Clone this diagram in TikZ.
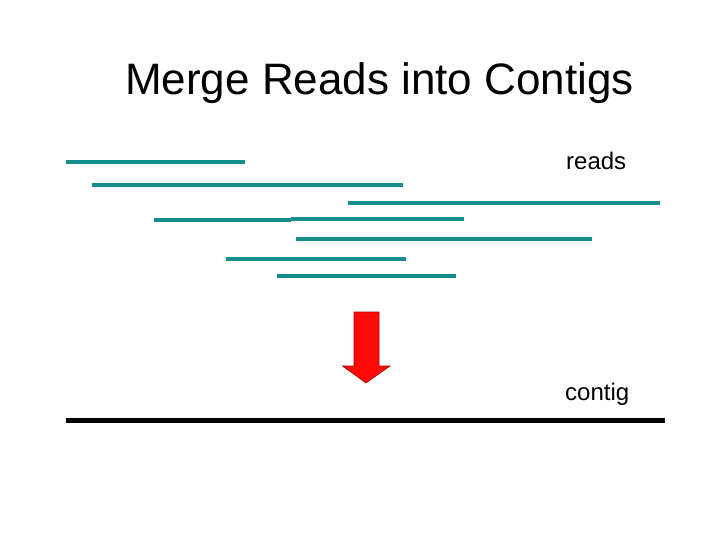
\documentclass[tikz,border=0pt]{standalone}
\usepackage{fontspec}
\setmainfont{Liberation Sans}
\definecolor{readteal}{RGB}{22,143,140}
\definecolor{arrowred}{RGB}{255,8,8}
\definecolor{arrowedge}{RGB}{170,0,0}
\tikzset{
  read/.style={draw=readteal, line width=4pt},
  contigline/.style={draw=black, line width=5pt},
  label/.style={anchor=base west, inner sep=0pt, font=\fontsize{24}{28}\selectfont},
}
\begin{document}
\begin{tikzpicture}[x=1pt, y=-1pt]
        \useasboundingbox (0,0) rectangle (720,540);

        \node[anchor=base west, inner sep=0pt, font=\fontsize{44}{52}\selectfont] (title) at (125,95) {Merge Reads into Contigs};

        % reads
        \coordinate (r1a) at (66,162);   \coordinate (r1b) at (245,162);
        \coordinate (r2a) at (92,185);   \coordinate (r2b) at (403,185);
        \coordinate (r3a) at (348,203.5);\coordinate (r3b) at (660,203.5);
        \coordinate (r4a) at (154,220.5);\coordinate (r4b) at (291,220.5);
        \coordinate (r5a) at (291,219);  \coordinate (r5b) at (464,219);
        \coordinate (r6a) at (296,238.5);\coordinate (r6b) at (592,238.5);
        \coordinate (r7a) at (226,258.5);\coordinate (r7b) at (406,258.5);
        \coordinate (r8a) at (277,275.5);\coordinate (r8b) at (456,275.5);

        \path[read] (r1a) -- (r1b);
        \path[read] (r2a) -- (r2b);
        \path[read] (r3a) -- (r3b);
        \path[read] (r4a) -- (r4b);
        \path[read] (r5a) -- (r5b);
        \path[read] (r6a) -- (r6b);
        \path[read] (r7a) -- (r7b);
        \path[read] (r8a) -- (r8b);

        \node[label] (reads) at (566,170) {reads};

        % merge arrow
        \filldraw[fill=arrowred, draw=arrowedge, line width=0.6pt]
          (354,312) -- (379,312) -- (379,366) -- (390,366) -- (366,383)
          -- (342.5,366) -- (354,366) -- cycle;

        % contig
        \coordinate (ca) at (66,420);
        \coordinate (cb) at (665,420);
        \path[contigline] (ca) -- (cb);

        \node[label] (contig) at (565,400.5) {contig};
      \end{tikzpicture}
\end{document}
